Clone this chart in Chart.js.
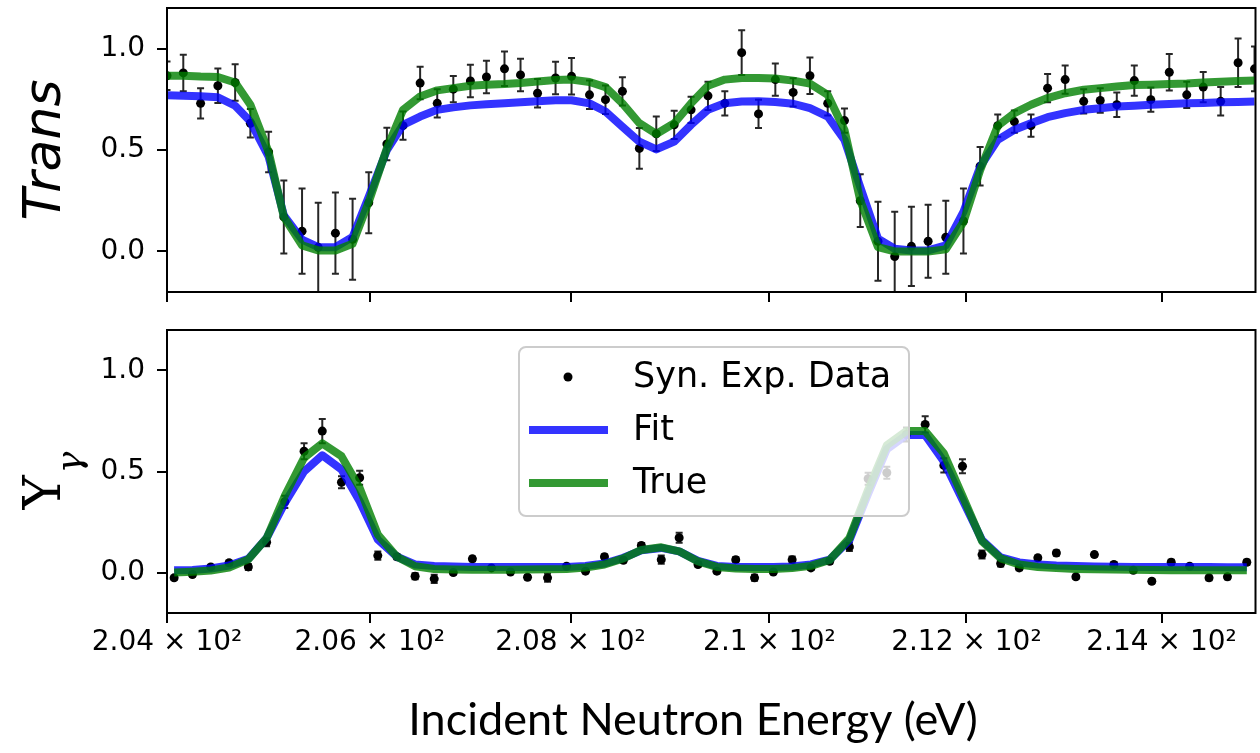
<!DOCTYPE html>
<html>
<head>
<meta charset="utf-8">
<title>Trans and capture yield fit</title>
<script src="https://cdn.jsdelivr.net/npm/chart.js@4.4.1/dist/chart.umd.min.js"></script>
<style>
    body { margin: 0; background: #fff; }
    .panel { position: absolute; left: 0; width: 1260px; }
    #transPanel { top: 0; height: 320px; }
    #yieldPanel { top: 320px; height: 433px; }
</style>
</head>
<body>
<div class="panel" id="transPanel"><canvas id="transChart"></canvas></div>
<div class="panel" id="yieldPanel"><canvas id="yieldChart"></canvas></div>
<script>
// axis ticks
const xTickValues = [204, 206, 208, 210, 212, 214];
const yTickValues = [0, 0.5, 1.0];

// transmission panel (eV, values)
const transEnergy = [204.00, 204.16, 204.33, 204.50, 204.67, 204.82, 205.00, 205.15, 205.33, 205.49,
    205.66, 205.83, 205.99, 206.17, 206.33, 206.50, 206.67, 206.83, 207.00, 207.16,
    207.34, 207.50, 207.67, 207.85, 208.01, 208.19, 208.35, 208.52, 208.69, 208.86,
    209.04, 209.21, 209.38, 209.55, 209.72, 209.89, 210.06, 210.24, 210.41, 210.59,
    210.76, 210.92, 211.10, 211.27, 211.44, 211.61, 211.79, 211.97, 212.14, 212.32,
    212.49, 212.66, 212.83, 213.01, 213.20, 213.37, 213.54, 213.72, 213.89, 214.08,
    214.26, 214.43, 214.61, 214.79, 214.96];
const transData = [0.866, 0.88, 0.73, 0.817, 0.833, 0.632, 0.49, 0.17, 0.10, 0.02,
    0.09, 0.06, 0.24, 0.53, 0.62, 0.83, 0.73, 0.80, 0.84, 0.86,
    0.90, 0.87, 0.78, 0.855, 0.863, 0.772, 0.748, 0.789, 0.508, 0.58,
    0.624, 0.698, 0.767, 0.73, 0.98, 0.678, 0.847, 0.784, 0.866, 0.73,
    0.645, 0.25, 0.05, -0.025, 0.025, 0.05, 0.07, 0.15, 0.42, 0.62,
    0.64, 0.62, 0.805, 0.847, 0.74, 0.744, 0.723, 0.842, 0.748, 0.883,
    0.772, 0.81, 0.74, 0.93, 0.90];
const transErr = [0.07, 0.09, 0.075, 0.085, 0.09, 0.07, 0.10, 0.18, 0.21, 0.22,
    0.20, 0.20, 0.15, 0.08, 0.07, 0.08, 0.07, 0.065, 0.08, 0.08,
    0.085, 0.08, 0.07, 0.08, 0.09, 0.07, 0.07, 0.07, 0.10, 0.085,
    0.07, 0.065, 0.07, 0.06, 0.11, 0.07, 0.08, 0.07, 0.09, 0.06,
    0.06, 0.13, 0.195, 0.22, 0.195, 0.18, 0.18, 0.16, 0.095, 0.055,
    0.055, 0.055, 0.07, 0.07, 0.06, 0.06, 0.06, 0.075, 0.06, 0.09,
    0.065, 0.075, 0.07, 0.12, 0.11];
const transFit = [0.77, 0.768, 0.765, 0.76, 0.718, 0.64, 0.467, 0.178, 0.058, 0.021,
    0.021, 0.071, 0.269, 0.50, 0.624, 0.665, 0.698, 0.71, 0.72, 0.725,
    0.73, 0.735, 0.74, 0.745, 0.745, 0.73, 0.69, 0.615, 0.541, 0.503,
    0.541, 0.624, 0.698, 0.73, 0.739, 0.74, 0.737, 0.728, 0.706, 0.665,
    0.55, 0.318, 0.063, 0.013, 0.005, 0.005, 0.03, 0.195, 0.417, 0.55,
    0.60, 0.632, 0.662, 0.682, 0.698, 0.706, 0.714, 0.718, 0.723, 0.727,
    0.73, 0.732, 0.735, 0.737, 0.739];
const transTrue = [0.866, 0.866, 0.862, 0.86, 0.833, 0.723, 0.49, 0.17, 0.03, 0.005,
    0.005, 0.038, 0.244, 0.508, 0.698, 0.764, 0.794, 0.805, 0.817, 0.822,
    0.825, 0.83, 0.838, 0.845, 0.847, 0.835, 0.81, 0.73, 0.632, 0.579,
    0.632, 0.73, 0.817, 0.847, 0.855, 0.855, 0.852, 0.842, 0.827, 0.772,
    0.599, 0.252, 0.021, 0.0, 0.0, 0.0, 0.01, 0.145, 0.40, 0.619,
    0.682, 0.723, 0.756, 0.78, 0.797, 0.805, 0.813, 0.82, 0.822, 0.825,
    0.828, 0.833, 0.836, 0.84, 0.842];

// capture yield panel
const yieldEnergy = [204.07, 204.25, 204.43, 204.61, 204.80, 204.98, 205.16, 205.35, 205.53, 205.72,
    205.90, 206.08, 206.27, 206.45, 206.64, 206.83, 207.02, 207.21, 207.40, 207.57,
    207.77, 207.96, 208.15, 208.34, 208.53, 208.71, 208.91, 209.09, 209.28, 209.47,
    209.66, 209.85, 210.04, 210.23, 210.42, 210.61, 210.81, 211.00, 211.19, 211.39,
    211.58, 211.77, 211.96, 212.16, 212.35, 212.54, 212.73, 212.92, 213.12, 213.31,
    213.51, 213.71, 213.90, 214.10, 214.29, 214.49, 214.68, 214.88];
const yieldData = [-0.026, -0.01, 0.028, 0.048, 0.028, 0.15, 0.35, 0.60, 0.70, 0.447,
    0.469, 0.084, 0.078, -0.018, -0.031, 0.0, 0.068, 0.023, 0.003, -0.023,
    -0.026, 0.031, 0.007, 0.078, 0.061, 0.134, 0.064, 0.172, 0.04, 0.007,
    0.064, -0.026, 0.003, 0.064, 0.023, 0.056, 0.127, 0.464, 0.494, 0.683,
    0.733, 0.53, 0.526, 0.089, 0.045, 0.023, 0.073, 0.097, -0.021, 0.089,
    0.04, 0.011, -0.043, 0.051, 0.031, -0.026, -0.021, 0.051];
const yieldErr = [0.01, 0.01, 0.01, 0.012, 0.015, 0.02, 0.03, 0.04, 0.06, 0.03,
    0.035, 0.02, 0.012, 0.015, 0.02, 0.01, 0.012, 0.01, 0.01, 0.01,
    0.02, 0.01, 0.01, 0.012, 0.01, 0.012, 0.02, 0.025, 0.01, 0.01,
    0.012, 0.015, 0.01, 0.015, 0.01, 0.012, 0.02, 0.03, 0.03, 0.035,
    0.04, 0.035, 0.035, 0.02, 0.015, 0.012, 0.012, 0.012, 0.01, 0.01,
    0.01, 0.01, 0.01, 0.012, 0.01, 0.012, 0.012, 0.012];
const yieldFit = [0.011, 0.013, 0.02, 0.035, 0.068, 0.17, 0.345, 0.50, 0.58, 0.51,
    0.353, 0.163, 0.078, 0.04, 0.032, 0.03, 0.028, 0.027, 0.027, 0.027,
    0.027, 0.028, 0.033, 0.045, 0.073, 0.11, 0.122, 0.105, 0.058, 0.033,
    0.028, 0.027, 0.027, 0.03, 0.04, 0.064, 0.16, 0.39, 0.61, 0.68,
    0.68, 0.55, 0.36, 0.16, 0.075, 0.05, 0.04, 0.035, 0.032, 0.03,
    0.029, 0.028, 0.028, 0.027, 0.027, 0.027, 0.026, 0.026];
const yieldTrue = [0.0, 0.004, 0.01, 0.025, 0.065, 0.17, 0.38, 0.568, 0.639, 0.576,
    0.419, 0.188, 0.078, 0.031, 0.018, 0.015, 0.014, 0.014, 0.014, 0.015,
    0.016, 0.018, 0.025, 0.04, 0.07, 0.112, 0.125, 0.105, 0.055, 0.028,
    0.02, 0.018, 0.018, 0.022, 0.033, 0.062, 0.17, 0.41, 0.63, 0.70,
    0.70, 0.59, 0.38, 0.155, 0.07, 0.04, 0.028, 0.022, 0.018, 0.016,
    0.015, 0.014, 0.013, 0.012, 0.012, 0.011, 0.011, 0.011];

Chart.defaults.font.family = '"DejaVu Sans", sans-serif';
Chart.defaults.color = '#000';

const pts = (xs, ys) => xs.map((x, i) => ({ x: x, y: ys[i] }));

function xTickLabel(v) {
    return String(+(v / 100).toFixed(2)) + ' \u00d7 10\u00b2';
}

const dataStyle = { showLine: false, pointRadius: 4.5, pointBackgroundColor: '#000', pointBorderWidth: 0, order: 3, clip: 0 };
const fitStyle = { showLine: true, borderColor: 'rgba(0,0,255,0.8)', backgroundColor: 'rgba(0,0,255,0.8)', borderWidth: 8,
    pointRadius: 0, tension: 0, borderJoinStyle: 'round', order: 2, clip: 0 };
const trueStyle = { showLine: true, borderColor: 'rgba(0,128,0,0.8)', backgroundColor: 'rgba(0,128,0,0.8)', borderWidth: 8,
    pointRadius: 0, tension: 0, borderJoinStyle: 'round', order: 1, clip: 0 };

const tickGrid = { display: true, drawOnChartArea: false, drawTicks: true, tickLength: 10, color: '#000', lineWidth: 2 };

// chart.js reserves room for edge labels; the frame should sit where the layout padding says
function noEdgePadding(s) {
    s.paddingTop = 0;
    s.paddingBottom = 0;
    s.paddingLeft = 0;
    s.paddingRight = 0;
}

const errorBarPlugin = {
    id: 'errorBars',
    beforeDatasetsDraw(chart) {
        const { ctx, chartArea: a, scales } = chart;
        ctx.save();
        ctx.beginPath();
        ctx.rect(a.left, a.top, a.right - a.left, a.bottom - a.top);
        ctx.clip();
        ctx.strokeStyle = 'rgba(0,0,0,0.85)';
        ctx.lineWidth = 2;
        chart.data.datasets.forEach(ds => {
            if (!ds.errors) return;
            ds.data.forEach((p, i) => {
                const x = scales.x.getPixelForValue(p.x);
                const yTop = scales.y.getPixelForValue(p.y + ds.errors[i]);
                const yBot = scales.y.getPixelForValue(p.y - ds.errors[i]);
                ctx.beginPath();
                ctx.moveTo(x, yTop); ctx.lineTo(x, yBot);
                ctx.moveTo(x - 3.5, yTop); ctx.lineTo(x + 3.5, yTop);
                ctx.moveTo(x - 3.5, yBot); ctx.lineTo(x + 3.5, yBot);
                ctx.stroke();
            });
        });
        ctx.restore();
    }
};

const framePlugin = {
    id: 'frame',
    afterDatasetsDraw(chart) {
        const { ctx, chartArea: a } = chart;
        ctx.save();
        ctx.strokeStyle = '#000';
        ctx.lineWidth = 2;
        ctx.strokeRect(a.left, a.top, a.right - a.left, a.bottom - a.top);
        ctx.restore();
    }
};

// legend box inside the lower panel
const boxLegendPlugin = {
    id: 'boxLegend',
    afterDraw(chart) {
        const { ctx, chartArea: a } = chart;
        const bx = a.left + 352, by = a.top + 17, bw = 390, bh = 169;
        ctx.save();
        ctx.beginPath();
        ctx.roundRect(bx, by, bw, bh, 7);
        ctx.fillStyle = 'rgba(255,255,255,0.8)';
        ctx.fill();
        ctx.strokeStyle = '#cccccc';
        ctx.lineWidth = 2;
        ctx.stroke();
        ctx.font = '35px "DejaVu Sans"';
        ctx.textBaseline = 'middle';
        chart.data.datasets.forEach((ds, k) => {
            const y = by + 30 + k * 53;
            if (ds.showLine) {
                ctx.strokeStyle = ds.borderColor;
                ctx.lineWidth = 8;
                ctx.beginPath();
                ctx.moveTo(bx + 10, y);
                ctx.lineTo(bx + 89, y);
                ctx.stroke();
            } else {
                ctx.fillStyle = '#000';
                ctx.beginPath();
                ctx.arc(bx + 49, y, 4.5, 0, Math.PI * 2);
                ctx.fill();
            }
            ctx.fillStyle = '#000';
            ctx.fillText(ds.label, bx + 114, y + 1);
        });
        ctx.restore();
    }
};

// Y with subscript gamma on the left, x title below the lower panel
const yieldTextPlugin = {
    id: 'yieldText',
    afterDraw(chart) {
        const { ctx, chartArea: a } = chart;
        ctx.save();
        ctx.translate(46, (a.top + a.bottom) / 2 + 38);
        ctx.rotate(-Math.PI / 2);
        ctx.fillStyle = '#000';
        ctx.textAlign = 'left';
        ctx.textBaseline = 'middle';
        ctx.font = '52px "DejaVu Serif"';
        ctx.fillText('Y', 0, 0);
        const w = ctx.measureText('Y').width;
        ctx.font = 'italic 36px "DejaVu Serif"';
        ctx.fillText('\u03b3', w + 2, 26);
        ctx.restore();

        ctx.save();
        ctx.fillStyle = '#000';
        ctx.font = '45px Lato';
        ctx.textAlign = 'center';
        ctx.textBaseline = 'middle';
        ctx.fillText('Incident Neutron Energy (eV)', a.left + 526, a.bottom + 107);
        ctx.restore();
    }
};

function xScale(showLabels, height) {
    return {
        type: 'logarithmic',
        min: 204,
        max: 214.97,
        afterBuildTicks: s => { s.ticks = xTickValues.map(v => ({ value: v })); },
        afterFit: s => { s.height = height; noEdgePadding(s); },
        grid: tickGrid,
        border: { display: false },
        ticks: { display: showLabels, autoSkip: false, maxRotation: 0, minRotation: 0, padding: 3,
            font: { size: 28 }, color: '#000', callback: v => xTickLabel(v) },
        title: { display: false }
    };
}

function yScale(title) {
    return {
        min: -0.2,
        max: 1.2,
        afterBuildTicks: s => { s.ticks = yTickValues.map(v => ({ value: v })); },
        afterFit: s => { s.width = 167; noEdgePadding(s); },
        grid: tickGrid,
        border: { display: false },
        ticks: { padding: 12, font: { size: 28 }, color: '#000', callback: v => v.toFixed(1) },
        title: title
    };
}

function baseOptions(padTop, xs, ys) {
    return {
        responsive: true,
        maintainAspectRatio: false,
        animation: false,
        devicePixelRatio: 1,
        events: [],
        layout: { padding: { top: padTop, right: 2, left: 0, bottom: 0 } },
        plugins: { legend: { display: false }, tooltip: { enabled: false } },
        scales: { x: xs, y: ys }
    };
}

new Chart(document.getElementById('transChart'), {
    type: 'scatter',
    data: {
        datasets: [
            { label: 'Syn. Exp. Data', data: pts(transEnergy, transData), errors: transErr, ...dataStyle },
            { label: 'Fit', data: pts(transEnergy, transFit), ...fitStyle },
            { label: 'True', data: pts(transEnergy, transTrue), ...trueStyle }
        ]
    },
    options: baseOptions(8,
        xScale(false, 28),
        yScale({ display: true, text: 'Trans', color: '#000',
            font: { size: 52, style: 'italic' }, padding: { top: 15, bottom: 0 } })),
    plugins: [errorBarPlugin, framePlugin]
});

new Chart(document.getElementById('yieldChart'), {
    type: 'scatter',
    data: {
        datasets: [
            { label: 'Syn. Exp. Data', data: pts(yieldEnergy, yieldData), errors: yieldErr, ...dataStyle },
            { label: 'Fit', data: pts(yieldEnergy, yieldFit), ...fitStyle },
            { label: 'True', data: pts(yieldEnergy, yieldTrue), ...trueStyle }
        ]
    },
    options: baseOptions(10, xScale(true, 140), yScale({ display: false })),
    plugins: [errorBarPlugin, framePlugin, boxLegendPlugin, yieldTextPlugin]
});
</script>
</body>
</html>
